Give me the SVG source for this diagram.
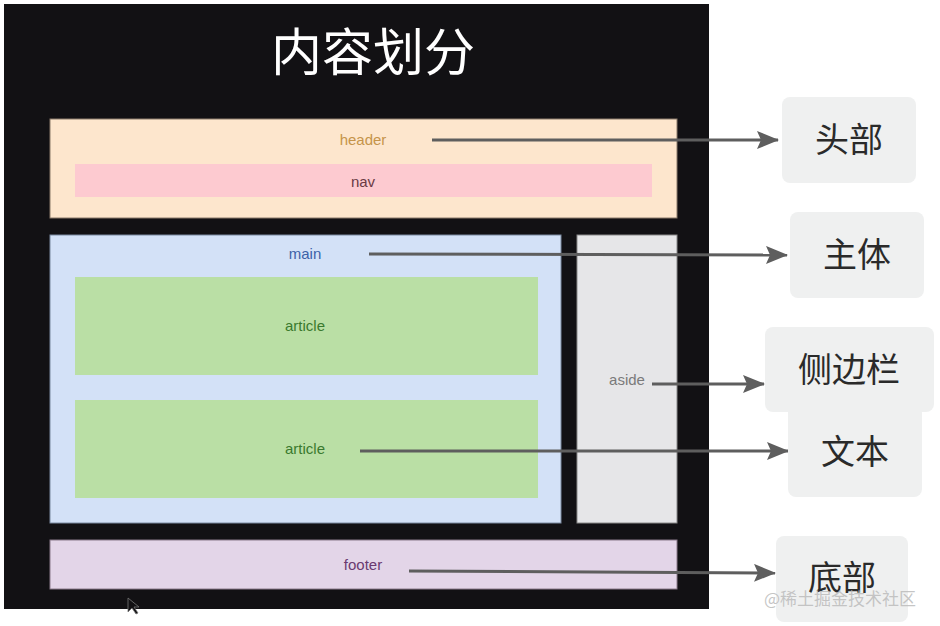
<svg xmlns="http://www.w3.org/2000/svg" width="940" height="626" viewBox="0 0 940 626">
<style>
.lbl{font-family:"Liberation Sans",Arial,sans-serif;font-size:15px;text-anchor:middle}
.cn{font-family:"Noto Sans CJK SC","Noto Sans",sans-serif;font-size:34px;fill:#2a2a2a;text-anchor:middle}
.box{fill:#eff0f0}
.conn{stroke:#5e5e5e;stroke-width:3;fill:none;marker-end:url(#ah)}
</style>
<defs>
<marker id="ah" markerWidth="22" markerHeight="18" refX="21" refY="9" orient="auto" markerUnits="userSpaceOnUse" viewBox="0 0 22 18">
<path d="M0,0 L22,9 L0,18 L4,9 z" fill="#5e5e5e"/>
</marker>
</defs>
<rect width="940" height="626" fill="#ffffff"/>
<g id="panel">
<rect x="4" y="4" width="705" height="605" fill="#121114"/>
<text x="373" y="71" font-family="Noto Sans CJK SC,sans-serif" font-size="51" fill="#ffffff" text-anchor="middle">内容划分</text>
</g>
<g id="header">
<rect x="50" y="119" width="627" height="99" fill="#fde6cd" stroke="#8a7a6a" stroke-width="1"/>
<text class="lbl" x="363" y="145" fill="#c5944a">header</text>
</g>
<g id="nav">
<rect x="75" y="164" width="577" height="33" fill="#fdcad0"/>
<text class="lbl" x="363" y="187" fill="#6a3a44">nav</text>
</g>
<g id="main">
<rect x="50" y="235" width="511" height="288" fill="#d3e1f7" stroke="#7a8aa0" stroke-width="1"/>
<text class="lbl" x="305" y="259" fill="#3d62a8">main</text>
</g>
<g id="article1">
<rect x="75" y="277" width="463" height="98" fill="#badfa5"/>
<text class="lbl" x="305" y="331" fill="#3a7a2e">article</text>
</g>
<g id="article2">
<rect x="75" y="400" width="463" height="98" fill="#badfa5"/>
<text class="lbl" x="305" y="454" fill="#3a7a2e">article</text>
</g>
<g id="aside">
<rect x="577" y="235" width="100" height="288" fill="#e6e6e8" stroke="#8a8a8a" stroke-width="1"/>
<text class="lbl" x="627" y="385" fill="#7a7a7a">aside</text>
</g>
<g id="footer">
<rect x="50" y="540" width="627" height="49" fill="#e3d5e8" stroke="#8a7a8a" stroke-width="1"/>
<text class="lbl" x="363" y="570" fill="#6a3a70">footer</text>
</g>
<path d="M128,598 L128,612 L132,608 L136,614 L138,613 L134,607 L139,607 Z" fill="#121114" stroke="#777" stroke-width="0.8"/>
<g id="connectors">
<line class="conn" x1="432" y1="140" x2="778" y2="140"/>
<line class="conn" x1="369" y1="254" x2="787" y2="255"/>
<line class="conn" x1="652" y1="384" x2="764" y2="384"/>
<line class="conn" x1="360" y1="451" x2="788" y2="451"/>
<line class="conn" x1="409" y1="571" x2="775" y2="573"/>
</g>
<g id="n-wenben">
<rect class="box" x="788" y="405" width="134" height="92" rx="8"/>
<text class="cn" x="855" y="464">文本</text>
</g>
<g id="n-toubu">
<rect class="box" x="782" y="97" width="134" height="86" rx="8"/>
<text class="cn" x="849" y="152">头部</text>
</g>
<g id="n-zhuti">
<rect class="box" x="790" y="212" width="134" height="86" rx="8"/>
<text class="cn" x="857" y="267">主体</text>
</g>
<g id="n-cebianlan">
<rect class="box" x="765" y="327" width="169" height="85" rx="8"/>
<text class="cn" x="849" y="382">侧边栏</text>
</g>
<g id="n-dibu">
<rect class="box" x="776" y="536" width="132" height="86" rx="8"/>
<text class="cn" x="842" y="590">底部</text>
</g>
<text x="840" y="605" font-family="Noto Sans CJK SC,sans-serif" font-size="17" fill="#bbbbbb" fill-opacity="0.85" text-anchor="middle">@稀土掘金技术社区</text>
</svg>
